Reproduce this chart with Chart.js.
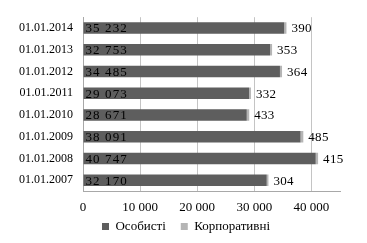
<!DOCTYPE html>
<html><head><meta charset="utf-8">
<script src="https://cdn.jsdelivr.net/npm/chart.js@4"></script>
<style>html,body{margin:0;padding:0;background:#fff}#w{width:367px;height:243px}</style>
</head><body><div id="w"><canvas id="c"></canvas></div>
<script>
const categories = ['01.01.2014','01.01.2013','01.01.2012','01.01.2011','01.01.2010','01.01.2009','01.01.2008','01.01.2007'];
const personal = [35232, 32753, 34485, 29073, 28671, 38091, 40747, 32170];
const corporate = [390, 353, 364, 332, 433, 485, 415, 304];
const seriesNames = ['Особисті', 'Корпоративні'];
const tickValues = [0, 10000, 20000, 30000, 40000];

const FONT = '"Liberation Serif", serif';
const fmt = n => String(n).replace(/\B(?=(\d{3})+(?!\d))/g, ' ');

const labelPlugin = {
  id: 'barLabels',
  afterLayout(chart) {
    const lg = chart.legend;
    if (lg) { lg.left += 16; lg.right += 16; lg.top -= 12; lg.bottom -= 12; }
  },
  afterDatasetsDraw(chart) {
    const ctx = chart.ctx;
    ctx.save();
    ctx.font = '13px ' + FONT;
    ctx.fillStyle = '#000';
    ctx.textBaseline = 'middle';
    ctx.textAlign = 'left';
    const m0 = chart.getDatasetMeta(0), m1 = chart.getDatasetMeta(1);
    ctx.letterSpacing = '1.1px';
    m0.data.forEach((bar, i) => {
      ctx.fillText(fmt(personal[i]), bar.base + 2, bar.y + 1);
    });
    ctx.letterSpacing = '0.3px';
    m1.data.forEach((bar, i) => {
      ctx.fillText(fmt(corporate[i]), bar.x + 5, bar.y + 1);
    });
    ctx.letterSpacing = '0px';
    ctx.restore();
  }
};

new Chart(document.getElementById('c'), {
  type: 'bar',
  data: {
    labels: categories,
    datasets: [
      { label: seriesNames[0], data: personal, backgroundColor: '#5e5e5e', barPercentage: 0.53, categoryPercentage: 1 },
      { label: seriesNames[1], data: corporate, backgroundColor: '#b5b5b5', barPercentage: 0.53, categoryPercentage: 1 }
    ]
  },
  options: {
    indexAxis: 'y',
    responsive: true,
    maintainAspectRatio: false,
    animation: false,
    devicePixelRatio: 1,
    layout: { padding: { top: 14, right: 27, left: 0, bottom: -12 } },
    plugins: {
      legend: {
        position: 'bottom',
        labels: { font: { family: FONT, size: 13 }, color: '#000', boxWidth: 7, boxHeight: 7, padding: 15 }
      },
      tooltip: { enabled: false }
    },
    scales: {
      x: {
        stacked: true, min: 0, max: 45000,
        ticks: { stepSize: 10000, color: '#000', font: { family: FONT, size: 13 }, padding: 9, callback: v => fmt(v) },
        afterBuildTicks: s => { s.ticks = tickValues.map(v => ({ value: v })); },
        afterFit: s => { s.height = 26; },
        grid: { color: '#c4c4c4', drawTicks: false },
        border: { color: '#a8a8a8' }
      },
      y: {
        stacked: true,
        ticks: { color: '#000', font: { family: FONT, size: 12 }, padding: 10 },
        afterFit: s => { s.width = 83; },
        grid: { display: false, drawTicks: false },
        border: { color: '#a8a8a8' }
      }
    }
  },
  plugins: [labelPlugin]
});
</script></body></html>
